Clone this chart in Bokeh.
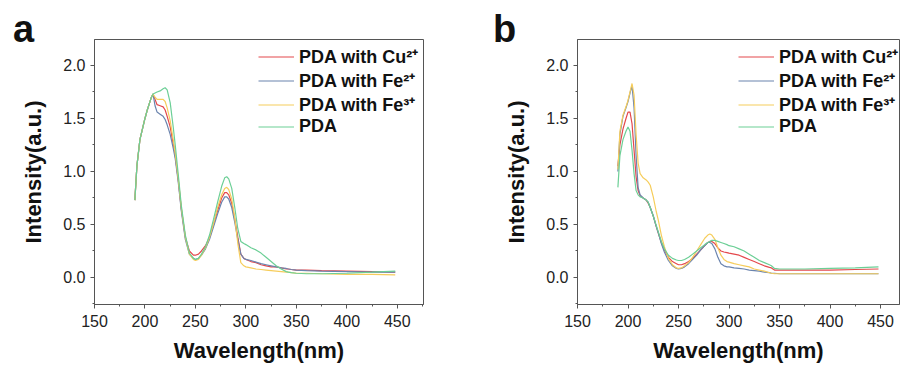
from bokeh.plotting import figure
from bokeh.layouts import row, column
from bokeh.models import Range1d, FixedTicker, PrintfTickFormatter, Legend, LegendItem, Div
from bokeh.embed import file_html
from bokeh.resources import INLINE

# Wavelength grid (nm)
wavelength = [190, 192, 195, 198, 200, 202, 204, 206, 208, 210, 212, 215, 218, 220, 222,
              225, 228, 230, 233, 236, 240, 244, 248, 250, 253, 256, 260, 264, 268, 272,
              276, 279, 281, 283, 286, 289, 292, 295, 298, 300, 305, 310, 315, 320, 325,
              330, 335, 340, 342, 345, 350, 360, 375, 400, 425, 448]

# Panel a
a_cu = [0.73, 1.05, 1.30, 1.42, 1.50, 1.57, 1.63, 1.69, 1.73, 1.68, 1.63, 1.62, 1.61, 1.58, 1.52,
        1.42, 1.26, 1.15, 0.92, 0.65, 0.38, 0.25, 0.21, 0.21, 0.22, 0.25, 0.30, 0.38, 0.50, 0.63,
        0.75, 0.80, 0.80, 0.78, 0.70, 0.55, 0.38, 0.22, 0.18, 0.17, 0.15, 0.14, 0.12, 0.11, 0.10,
        0.10, 0.09, 0.08, 0.08, 0.075, 0.07, 0.07, 0.065, 0.06, 0.055, 0.05]
a_fe2 = [0.73, 1.05, 1.30, 1.42, 1.50, 1.57, 1.63, 1.69, 1.73, 1.62, 1.56, 1.54, 1.52, 1.49, 1.44,
         1.35, 1.22, 1.12, 0.90, 0.63, 0.36, 0.22, 0.18, 0.17, 0.18, 0.21, 0.27, 0.36, 0.48, 0.60,
         0.71, 0.76, 0.76, 0.74, 0.66, 0.52, 0.36, 0.22, 0.18, 0.17, 0.16, 0.145, 0.13, 0.12, 0.11,
         0.10, 0.09, 0.085, 0.08, 0.075, 0.07, 0.065, 0.06, 0.055, 0.05, 0.05]
a_fe3 = [0.73, 1.05, 1.30, 1.42, 1.50, 1.57, 1.63, 1.69, 1.73, 1.70, 1.68, 1.68, 1.68, 1.66, 1.60,
         1.48, 1.30, 1.17, 0.93, 0.66, 0.38, 0.22, 0.17, 0.16, 0.17, 0.21, 0.28, 0.38, 0.51, 0.66,
         0.78, 0.84, 0.85, 0.83, 0.74, 0.56, 0.32, 0.14, 0.11, 0.10, 0.09, 0.08, 0.075, 0.07, 0.065,
         0.06, 0.055, 0.05, 0.05, 0.045, 0.04, 0.04, 0.035, 0.03, 0.03, 0.025]
a_pda = [0.73, 1.05, 1.30, 1.42, 1.50, 1.57, 1.63, 1.69, 1.73, 1.74, 1.75, 1.76, 1.78, 1.79, 1.77,
         1.65, 1.42, 1.25, 0.97, 0.68, 0.40, 0.23, 0.18, 0.17, 0.18, 0.22, 0.29, 0.40, 0.55, 0.71,
         0.86, 0.94, 0.95, 0.93, 0.84, 0.66, 0.46, 0.34, 0.32, 0.31, 0.28, 0.26, 0.23, 0.19, 0.15,
         0.11, 0.08, 0.055, 0.05, 0.045, 0.04, 0.035, 0.035, 0.04, 0.05, 0.06]

# Panel b
b_cu = [1.05, 1.25, 1.40, 1.50, 1.56, 1.56, 1.45, 1.20, 0.95, 0.82, 0.77, 0.75, 0.73, 0.70, 0.66,
        0.58, 0.48, 0.42, 0.33, 0.26, 0.19, 0.15, 0.13, 0.12, 0.12, 0.13, 0.15, 0.18, 0.22, 0.26,
        0.30, 0.33, 0.34, 0.34, 0.32, 0.28, 0.25, 0.24, 0.235, 0.23, 0.22, 0.21, 0.19, 0.17, 0.15,
        0.13, 0.11, 0.095, 0.09, 0.07, 0.07, 0.07, 0.07, 0.07, 0.075, 0.08]
b_fe2 = [1.00, 1.35, 1.52, 1.60, 1.66, 1.74, 1.81, 1.60, 1.15, 0.85, 0.78, 0.75, 0.73, 0.71, 0.66,
         0.58, 0.48, 0.42, 0.32, 0.24, 0.16, 0.11, 0.085, 0.08, 0.085, 0.10, 0.13, 0.17, 0.21, 0.26,
         0.30, 0.33, 0.33, 0.32, 0.27, 0.19, 0.13, 0.11, 0.10, 0.10, 0.09, 0.085, 0.08, 0.07, 0.065,
         0.06, 0.05, 0.045, 0.04, 0.04, 0.035, 0.035, 0.035, 0.035, 0.035, 0.035]
b_fe3 = [1.02, 1.38, 1.53, 1.61, 1.67, 1.75, 1.83, 1.72, 1.35, 1.08, 0.98, 0.94, 0.92, 0.90, 0.87,
         0.76, 0.62, 0.54, 0.40, 0.29, 0.18, 0.12, 0.09, 0.085, 0.09, 0.11, 0.14, 0.19, 0.25, 0.31,
         0.37, 0.40, 0.41, 0.40, 0.36, 0.28, 0.21, 0.17, 0.15, 0.145, 0.13, 0.12, 0.11, 0.10, 0.08,
         0.07, 0.06, 0.045, 0.04, 0.035, 0.035, 0.035, 0.035, 0.035, 0.035, 0.035]
b_pda = [0.85, 1.15, 1.30, 1.38, 1.42, 1.38, 1.20, 0.98, 0.82, 0.78, 0.76, 0.75, 0.73, 0.71, 0.66,
         0.58, 0.49, 0.43, 0.34, 0.27, 0.21, 0.18, 0.165, 0.16, 0.16, 0.17, 0.19, 0.22, 0.25, 0.28,
         0.31, 0.33, 0.34, 0.35, 0.35, 0.34, 0.33, 0.32, 0.31, 0.30, 0.29, 0.27, 0.25, 0.22, 0.19,
         0.16, 0.14, 0.12, 0.11, 0.085, 0.08, 0.08, 0.08, 0.085, 0.09, 0.10]

series_labels = ["PDA with Cu²⁺", "PDA with Fe²⁺", "PDA with Fe³⁺", "PDA"]
colors = ["#e4484c", "#6b84ae", "#f6cd5c", "#6ccf96"]
panel_letters = ["a", "b"]

y_ticks = [0.0, 0.5, 1.0, 1.5, 2.0]
y_minor = [-0.25, 0.25, 0.75, 1.25, 1.75]
x_ticks = [150, 200, 250, 300, 350, 400, 450]
x_minor = [175, 225, 275, 325, 375, 425, 475]

FONT = "Liberation Sans"


def make_panel(series, x_end, border_left, border_right, width, legend_xy):
    p = figure(width=width, height=365, output_backend="svg", toolbar_location=None,
               x_range=Range1d(150, x_end), y_range=Range1d(-0.255, 2.245),
               min_border_left=border_left, min_border_right=border_right,
               min_border_top=39, min_border_bottom=61)
    p.grid.visible = False
    p.outline_line_color = "#555555"
    p.outline_line_width = 1
    p.background_fill_color = "white"
    p.border_fill_color = "white"

    items = []
    for lab, ys, col in zip(series_labels, series, colors):
        r = p.line(wavelength, ys, line_color=col, line_width=1.2)
        items.append(LegendItem(label=lab, renderers=[r]))

    leg = Legend(items=items, location=legend_xy)
    leg.border_line_alpha = 0
    leg.background_fill_alpha = 0
    leg.label_text_font = FONT
    leg.label_text_font_style = "bold"
    leg.label_text_font_size = "18px"
    leg.label_text_color = "#111111"
    leg.glyph_width = 36
    leg.glyph_height = 21
    leg.label_height = 21
    leg.spacing = 0
    leg.padding = 5
    leg.margin = 0
    leg.label_standoff = 5
    p.add_layout(leg)

    for ax in (p.xaxis[0], p.yaxis[0]):
        ax.axis_line_color = "#555555"
        ax.major_tick_line_color = "#555555"
        ax.minor_tick_line_color = "#555555"
        ax.major_tick_in = 0
        ax.major_tick_out = 4
        ax.minor_tick_in = 0
        ax.minor_tick_out = 2
        ax.major_label_text_font = FONT
        ax.major_label_text_font_size = "16px"
        ax.major_label_text_color = "#222222"
        ax.axis_label_text_font = FONT
        ax.axis_label_text_font_style = "bold"
        ax.axis_label_text_font_size = "22px"
        ax.axis_label_text_color = "#111111"

    p.xaxis.ticker = FixedTicker(ticks=x_ticks, minor_ticks=x_minor)
    p.yaxis.ticker = FixedTicker(ticks=y_ticks, minor_ticks=y_minor)
    p.yaxis.formatter = PrintfTickFormatter(format="%.1f")
    p.xaxis.axis_label = "Wavelength(nm)"
    p.yaxis.axis_label = "Intensity(a.u.)"
    p.xaxis.major_label_standoff = 6
    p.yaxis.major_label_standoff = 5
    p.xaxis.axis_label_standoff = 8
    p.yaxis.axis_label_standoff = 14
    return p


pa = make_panel([a_cu, a_fe2, a_fe3, a_pda], 476, 94, 28, 451, (159, 162))
pb = make_panel([b_cu, b_fe2, b_fe3, b_pda], 468.8, 126, 1, 449, (156, 162))

tag_style = {"font-family": "Liberation Sans", "font-weight": "bold", "font-size": "38px",
             "line-height": "40px", "color": "#111111"}
div_a = Div(text=panel_letters[0], width=40, height=44, margin=(9, 0, 0, 13), styles=tag_style)
div_b = Div(text=panel_letters[1], width=40, height=44, margin=(9, 0, 0, 440), styles=tag_style)
tags = row(div_a, div_b, margin=(-365, 0, 0, 0))

layout = column(row(pa, pb), tags)
open("out.html", "w").write(file_html(layout, INLINE))
